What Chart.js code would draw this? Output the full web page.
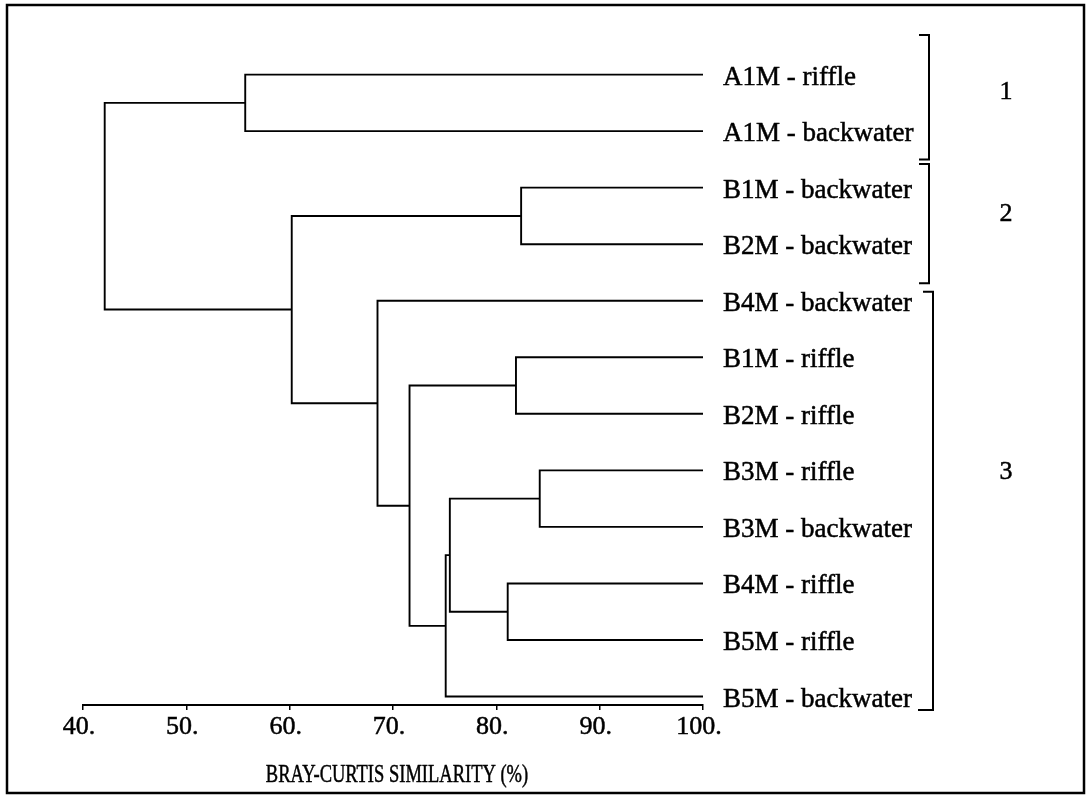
<!DOCTYPE html>
<html>
<head>
<meta charset="utf-8">
<script src="https://cdn.jsdelivr.net/npm/chart.js@4"></script>
<style>
  html, body { margin: 0; padding: 0; background: #fff; }
  #wrap { position: relative; width: 1089px; height: 795px; }
</style>
</head>
<body>
<div id="wrap"><canvas id="dendro"></canvas></div>
<script>
// leaves, top to bottom
const leafLabels = [
    'A1M - riffle', 'A1M - backwater', 'B1M - backwater', 'B2M - backwater',
    'B4M - backwater', 'B1M - riffle', 'B2M - riffle', 'B3M - riffle',
    'B3M - backwater', 'B4M - riffle', 'B5M - riffle', 'B5M - backwater'
];

// merges: node 12 is the first merge, 13 the second, ...
const mergeLeft = [0, 2, 7, 5, 9, 14, 17, 15, 4, 13, 12];
const mergeRight = [1, 3, 8, 6, 10, 16, 11, 18, 19, 20, 21];
const mergeSimilarity = [55.7, 82.4, 84.2, 81.9, 81.1, 75.5, 75.1, 71.6, 68.5, 60.2, 42.1];

const xTicks = [40, 50, 60, 70, 80, 90, 100];
const xTitle = 'BRAY-CURTIS SIMILARITY (%)';

// cluster groups on the right
const groupNames = ['1', '2', '3'];
const groupFirst = [0, 2, 4];
const groupLast = [1, 3, 11];

const serif = '"Liberation Serif", "Times New Roman", serif';

// position of every node: leaves sit at similarity 100
const nodeX = leafLabels.map(() => 100);
const nodeY = leafLabels.map((_, i) => i);
mergeSimilarity.forEach((h, i) => {
    nodeX.push(h);
    nodeY.push((nodeY[mergeLeft[i]] + nodeY[mergeRight[i]]) / 2);
});

const datasets = mergeSimilarity.map((h, i) => {
    const l = mergeLeft[i];
    const r = mergeRight[i];
    return {
        data: [
            { x: nodeX[l], y: nodeY[l] },
            { x: h, y: nodeY[l] },
            { x: h, y: nodeY[r] },
            { x: nodeX[r], y: nodeY[r] }
        ],
        showLine: true,
        borderColor: '#000',
        borderWidth: 1.9,
        borderJoinStyle: 'miter',
        pointRadius: 0,
        fill: false,
        clip: false
    };
});

function heavyText(ctx, text, x, y) {
    ctx.fillText(text, x, y);
    ctx.strokeText(text, x, y);
}

// leaf names, group brackets, axis title and the frame
const decorPlugin = {
    id: 'decor',
    afterDraw(chart) {
        const ctx = chart.ctx;
        const area = chart.chartArea;
        const y = chart.scales.y;
        ctx.save();
        ctx.fillStyle = '#000';
        ctx.strokeStyle = '#000';

        ctx.lineWidth = 0.5;
        ctx.font = '27px ' + serif;
        ctx.textAlign = 'left';
        ctx.textBaseline = 'alphabetic';
        leafLabels.forEach((name, i) => {
            heavyText(ctx, name, area.right + 20, y.getPixelForValue(i) + 10);
        });

        // group numbers
        const labelY = [0.27, 2.43, 6.99];
        ctx.font = '26px ' + serif;
        ctx.textAlign = 'center';
        groupNames.forEach((g, i) => {
            heavyText(ctx, g, 1006, y.getPixelForValue(labelY[i]) + 9);
        });

        // condensed axis title
        ctx.save();
        ctx.font = '25px ' + serif;
        ctx.translate((area.left + area.right) / 2 + 4, 782);
        ctx.scale(0.74, 1);
        heavyText(ctx, xTitle, 0, 0);
        ctx.restore();

        // hand drawn looking brackets
        const spanTop = [-0.7, 1.58, 3.84];
        const spanBottom = [1.5, 3.69, 11.24];
        const bracketX = [929, 929, 933];
        ctx.lineWidth = 2;
        groupNames.forEach((g, i) => {
            const top = y.getPixelForValue(spanTop[i]);
            const bottom = y.getPixelForValue(spanBottom[i]);
            const bx = bracketX[i];
            ctx.beginPath();
            ctx.moveTo(bx - 10, top);
            ctx.lineTo(bx, top);
            ctx.lineTo(bx, bottom);
            ctx.lineTo(bx - (i === 2 ? 15 : 10), bottom);
            ctx.stroke();
        });

        ctx.lineWidth = 2.5;
        ctx.strokeRect(7, 5, 1077, 788);
        ctx.restore();
    }
};

new Chart(document.getElementById('dendro'), {
    type: 'scatter',
    data: { datasets: datasets },
    options: {
        responsive: true,
        maintainAspectRatio: false,
        devicePixelRatio: 1,
        animation: false,
        layout: { padding: { left: 83, right: 386, top: 35, bottom: 0 } },
        plugins: {
            legend: { display: false },
            tooltip: { enabled: false }
        },
        scales: {
            x: {
                type: 'linear',
                min: 40,
                max: 100,
                afterBuildTicks: (scale) => {
                    scale.ticks = xTicks.map(v => ({ value: v }));
                },
                afterFit: (scale) => { scale.height = 90; },
                grid: {
                    drawOnChartArea: false,
                    color: '#000',
                    tickLength: 5,
                    lineWidth: 1.5
                },
                border: { color: '#000', width: 1.9 },
                ticks: {
                    color: '#000',
                    padding: 2,
                    maxRotation: 0,
                    labelOffset: -4,
                    textStrokeColor: '#000',
                    textStrokeWidth: 0.5,
                    font: { family: serif, size: 26 },
                    callback: (v) => v + '.'
                },
                title: { display: false }
            },
            y: {
                type: 'linear',
                reverse: true,
                min: -0.7,
                max: 11.15,
                display: false
            }
        }
    },
    plugins: [decorPlugin]
});
</script>
</body>
</html>
